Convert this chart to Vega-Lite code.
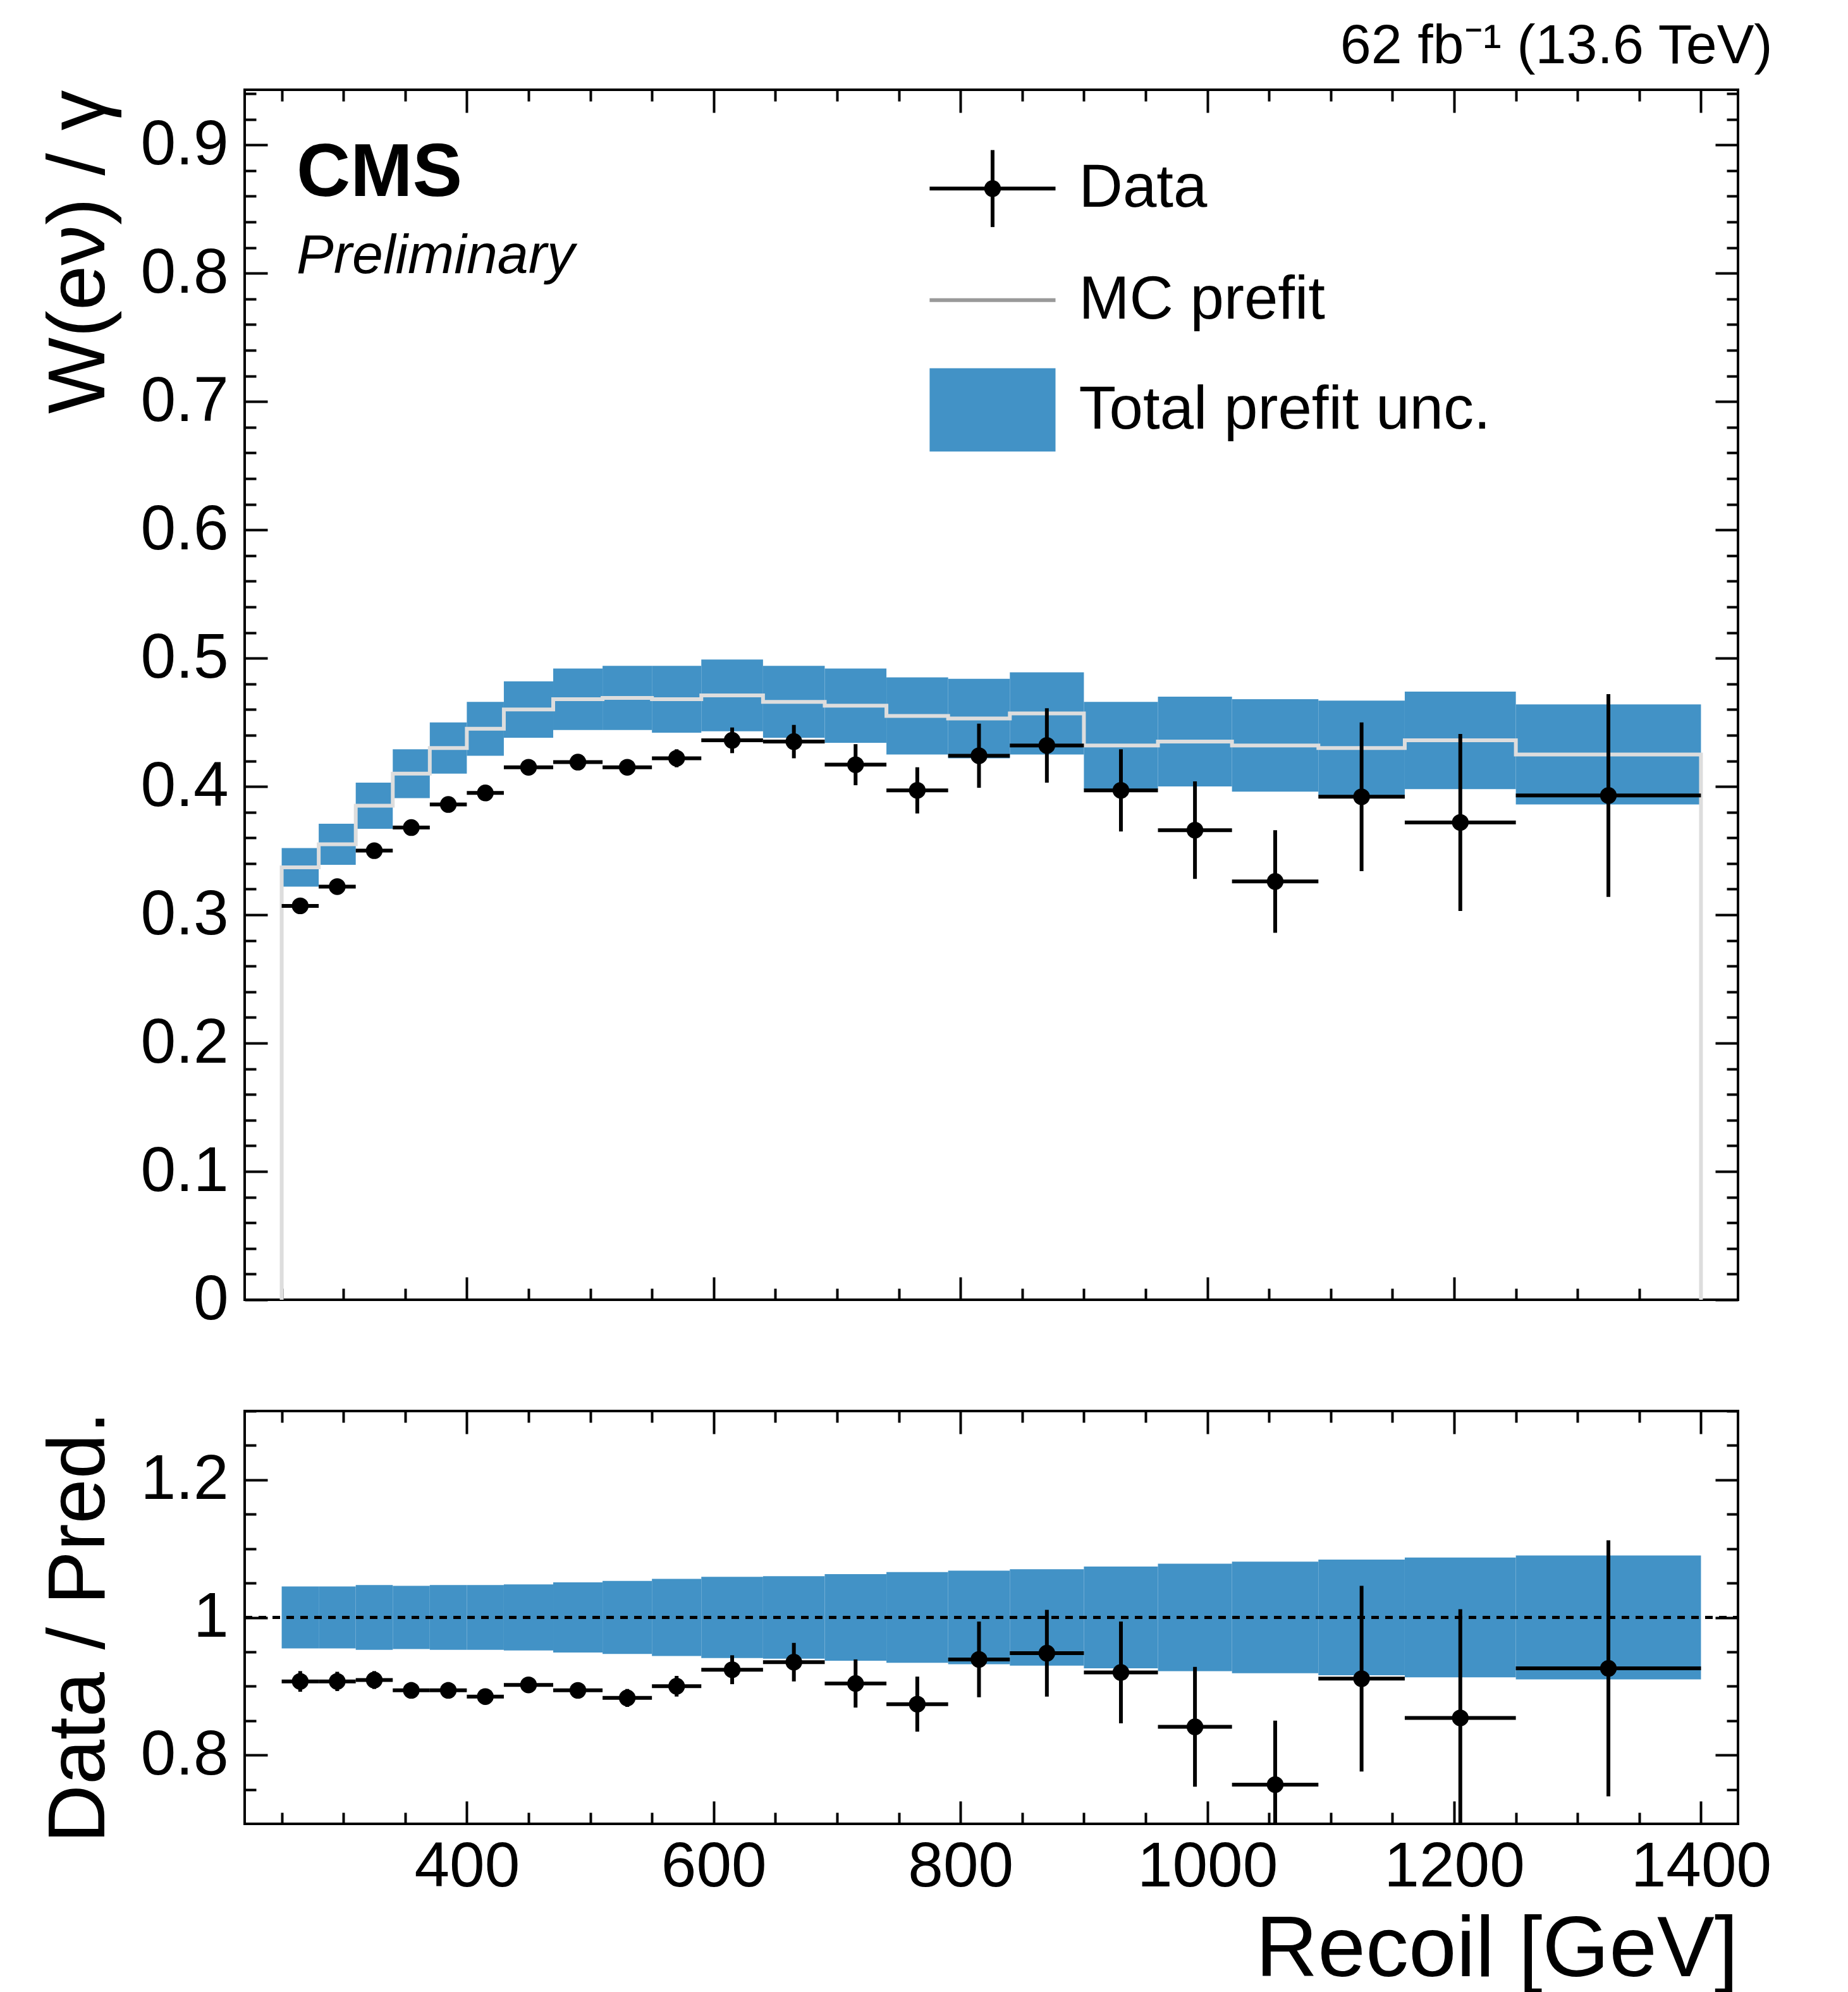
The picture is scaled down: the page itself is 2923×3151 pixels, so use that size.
{
  "$schema": "https://vega.github.io/schema/vega-lite/v6.json",
  "background": "white",
  "padding": {"left": 60, "top": 30, "right": 80, "bottom": 30},
  "config": {
    "font": "Liberation Sans",
    "view": {"stroke": "black", "strokeWidth": 4},
    "axis": {"domain": false, "grid": false, "tickColor": "black", "tickWidth": 4, "labelColor": "black",
      "labelFont": "Liberation Sans", "labelFontSize": 100, "titleFont": "Liberation Sans", "titleFontSize": 128,
      "titleFontWeight": "normal", "titleColor": "black", "labelPadding": 62, "labelLimit": 0, "titlePadding": 30}
  },
  "title": {"text": "62 fb⁻¹ (13.6 TeV)", "anchor": "end", "fontSize": 88, "fontWeight": "normal", "font": "Liberation Sans", "offset": 20},
  "datasets": {
    "bins": [
      {"lo":250,"hi":280,"c":265,"blo":0.322,"bhi":0.352,"d":0.307,"dlo":0.302,"dhi":0.312,"rblo":0.955,"rbhi":1.045,"r":0.907,"rlo":0.892,"rhi":0.922},
      {"lo":280,"hi":310,"c":295,"blo":0.339,"bhi":0.371,"d":0.322,"dlo":0.317,"dhi":0.327,"rblo":0.955,"rbhi":1.045,"r":0.907,"rlo":0.893,"rhi":0.921},
      {"lo":310,"hi":340,"c":325,"blo":0.367,"bhi":0.403,"d":0.350,"dlo":0.345,"dhi":0.355,"rblo":0.953,"rbhi":1.047,"r":0.909,"rlo":0.896,"rhi":0.922},
      {"lo":340,"hi":370,"c":355,"blo":0.391,"bhi":0.429,"d":0.368,"dlo":0.363,"dhi":0.373,"rblo":0.954,"rbhi":1.046,"r":0.894,"rlo":0.882,"rhi":0.906},
      {"lo":370,"hi":400,"c":385,"blo":0.410,"bhi":0.450,"d":0.386,"dlo":0.381,"dhi":0.391,"rblo":0.953,"rbhi":1.047,"r":0.894,"rlo":0.882,"rhi":0.906},
      {"lo":400,"hi":430,"c":415,"blo":0.424,"bhi":0.466,"d":0.395,"dlo":0.390,"dhi":0.400,"rblo":0.953,"rbhi":1.047,"r":0.885,"rlo":0.874,"rhi":0.896},
      {"lo":430,"hi":470,"c":450,"blo":0.438,"bhi":0.482,"d":0.415,"dlo":0.410,"dhi":0.420,"rblo":0.952,"rbhi":1.048,"r":0.902,"rlo":0.891,"rhi":0.913},
      {"lo":470,"hi":510,"c":490,"blo":0.444,"bhi":0.492,"d":0.419,"dlo":0.414,"dhi":0.424,"rblo":0.949,"rbhi":1.051,"r":0.894,"rlo":0.883,"rhi":0.905},
      {"lo":510,"hi":550,"c":530,"blo":0.444,"bhi":0.494,"d":0.415,"dlo":0.409,"dhi":0.421,"rblo":0.947,"rbhi":1.053,"r":0.883,"rlo":0.870,"rhi":0.896},
      {"lo":550,"hi":590,"c":570,"blo":0.442,"bhi":0.494,"d":0.422,"dlo":0.415,"dhi":0.429,"rblo":0.944,"rbhi":1.056,"r":0.900,"rlo":0.885,"rhi":0.915},
      {"lo":590,"hi":640,"c":615,"blo":0.443,"bhi":0.499,"d":0.436,"dlo":0.426,"dhi":0.446,"rblo":0.941,"rbhi":1.059,"r":0.924,"rlo":0.903,"rhi":0.945},
      {"lo":640,"hi":690,"c":665,"blo":0.438,"bhi":0.494,"d":0.435,"dlo":0.422,"dhi":0.448,"rblo":0.940,"rbhi":1.060,"r":0.935,"rlo":0.907,"rhi":0.963},
      {"lo":690,"hi":740,"c":715,"blo":0.434,"bhi":0.492,"d":0.417,"dlo":0.401,"dhi":0.433,"rblo":0.937,"rbhi":1.063,"r":0.904,"rlo":0.869,"rhi":0.939},
      {"lo":740,"hi":790,"c":765,"blo":0.425,"bhi":0.485,"d":0.397,"dlo":0.379,"dhi":0.415,"rblo":0.934,"rbhi":1.066,"r":0.874,"rlo":0.834,"rhi":0.914},
      {"lo":790,"hi":840,"c":815,"blo":0.422,"bhi":0.484,"d":0.424,"dlo":0.399,"dhi":0.449,"rblo":0.932,"rbhi":1.068,"r":0.939,"rlo":0.884,"rhi":0.994},
      {"lo":840,"hi":900,"c":870,"blo":0.425,"bhi":0.489,"d":0.432,"dlo":0.403,"dhi":0.461,"rblo":0.930,"rbhi":1.070,"r":0.948,"rlo":0.885,"rhi":1.011},
      {"lo":900,"hi":960,"c":930,"blo":0.398,"bhi":0.466,"d":0.397,"dlo":0.365,"dhi":0.429,"rblo":0.926,"rbhi":1.074,"r":0.920,"rlo":0.846,"rhi":0.994},
      {"lo":960,"hi":1020,"c":990,"blo":0.400,"bhi":0.470,"d":0.366,"dlo":0.328,"dhi":0.404,"rblo":0.922,"rbhi":1.078,"r":0.841,"rlo":0.754,"rhi":0.928},
      {"lo":1020,"hi":1090,"c":1055,"blo":0.396,"bhi":0.468,"d":0.326,"dlo":0.286,"dhi":0.366,"rblo":0.919,"rbhi":1.081,"r":0.757,"rlo":0.664,"rhi":0.850},
      {"lo":1090,"hi":1160,"c":1125,"blo":0.393,"bhi":0.467,"d":0.392,"dlo":0.334,"dhi":0.450,"rblo":0.916,"rbhi":1.084,"r":0.911,"rlo":0.776,"rhi":1.046},
      {"lo":1160,"hi":1250,"c":1205,"blo":0.398,"bhi":0.474,"d":0.372,"dlo":0.303,"dhi":0.441,"rblo":0.913,"rbhi":1.087,"r":0.854,"rlo":0.696,"rhi":1.012},
      {"lo":1250,"hi":1400,"c":1325,"blo":0.386,"bhi":0.464,"d":0.393,"dlo":0.314,"dhi":0.472,"rblo":0.910,"rbhi":1.090,"r":0.926,"rlo":0.740,"rhi":1.112}
    ],
    "mc": [
      {"e":250,"v":0},{"e":250,"v":0.337},{"e":280,"v":0.355},{"e":310,"v":0.385},{"e":340,"v":0.410},{"e":370,"v":0.430},
      {"e":400,"v":0.445},{"e":430,"v":0.460},{"e":470,"v":0.468},{"e":510,"v":0.469},{"e":550,"v":0.468},{"e":590,"v":0.471},
      {"e":640,"v":0.466},{"e":690,"v":0.463},{"e":740,"v":0.455},{"e":790,"v":0.453},{"e":840,"v":0.457},{"e":900,"v":0.432},
      {"e":960,"v":0.435},{"e":1020,"v":0.432},{"e":1090,"v":0.430},{"e":1160,"v":0.436},{"e":1250,"v":0.425},{"e":1400,"v":0.425},{"e":1400,"v":0}
    ],
    "cms": [{"t":"CMS","x":262,"y":0.86}],
    "prelim": [{"t":"Preliminary","x":262,"y":0.80}],
    "leg": [
      {"t":"Data","x":896,"y":0.866},
      {"t":"MC prefit","x":896,"y":0.779},
      {"t":"Total prefit unc.","x":896,"y":0.693}
    ],
    "legsym": [
      {"x":775,"x2":877,"y":0.866,"ylo":0.836,"yhi":0.896,"c":826,"my":0.779,"blo":0.661,"bhi":0.726}
    ]
  },
  "vconcat": [
    {
      "width": 2362,
      "height": 1914,
      "resolve": {"axis": {"x": "independent", "y": "independent"}},
      "layer": [
        {
          "data": {"name": "bins"},
          "mark": {"type": "rect", "color": "#4292c6"},
          "encoding": {
            "x": {"field": "lo", "type": "quantitative", "scale": {"domain": [220, 1430], "nice": false, "zero": false},
              "axis": {"orient": "bottom", "values": [400, 600, 800, 1000, 1200, 1400], "labels": false, "tickSize": -36, "title": null}},
            "x2": {"field": "hi"},
            "y": {"field": "blo", "type": "quantitative", "scale": {"domain": [0, 0.943], "nice": false},
              "axis": {"orient": "left", "values": [0, 0.1, 0.2, 0.3, 0.4, 0.5, 0.6, 0.7, 0.8, 0.9], "tickSize": -36,
                "title": "W(eν) / γ", "titleAnchor": "end", "labelExpr": "datum.value == 0 ? '0' : format(datum.value, '.1f')"}},
            "y2": {"field": "bhi"}
          }
        },
        {
          "data": {"name": "mc"},
          "mark": {"type": "line", "interpolate": "step-after", "color": "#dddddd", "strokeWidth": 6},
          "encoding": {
            "x": {"field": "e", "type": "quantitative",
              "axis": {"orient": "bottom", "values": [250,300,350,450,500,550,650,700,750,850,900,950,1050,1100,1150,1250,1300,1350], "labels": false, "tickSize": -18, "title": null}},
            "y": {"field": "v", "type": "quantitative",
              "axis": {"orient": "left", "values": [0.02,0.04,0.06,0.08,0.12,0.14,0.16,0.18,0.22,0.24,0.26,0.28,0.32,0.34,0.36,0.38,0.42,0.44,0.46,0.48,0.52,0.54,0.56,0.58,0.62,0.64,0.66,0.68,0.72,0.74,0.76,0.78,0.82,0.84,0.86,0.88,0.92,0.94], "labels": false, "tickSize": -18, "title": null}},
            "order": {"value": 0}
          }
        },
        {
          "data": {"name": "bins"},
          "mark": {"type": "rule", "color": "black", "strokeWidth": 6},
          "encoding": {
            "x": {"field": "lo", "type": "quantitative",
              "axis": {"orient": "top", "values": [400, 600, 800, 1000, 1200, 1400], "labels": false, "tickSize": -36, "title": null}},
            "x2": {"field": "hi"},
            "y": {"field": "d", "type": "quantitative",
              "axis": {"orient": "right", "values": [0, 0.1, 0.2, 0.3, 0.4, 0.5, 0.6, 0.7, 0.8, 0.9], "labels": false, "tickSize": -36, "title": null}}
          }
        },
        {
          "data": {"name": "bins"},
          "mark": {"type": "rule", "color": "black", "strokeWidth": 6},
          "encoding": {
            "x": {"field": "c", "type": "quantitative",
              "axis": {"orient": "top", "values": [250,300,350,450,500,550,650,700,750,850,900,950,1050,1100,1150,1250,1300,1350], "labels": false, "tickSize": -18, "title": null}},
            "y": {"field": "dlo", "type": "quantitative",
              "axis": {"orient": "right", "values": [0.02,0.04,0.06,0.08,0.12,0.14,0.16,0.18,0.22,0.24,0.26,0.28,0.32,0.34,0.36,0.38,0.42,0.44,0.46,0.48,0.52,0.54,0.56,0.58,0.62,0.64,0.66,0.68,0.72,0.74,0.76,0.78,0.82,0.84,0.86,0.88,0.92,0.94], "labels": false, "tickSize": -18, "title": null}},
            "y2": {"field": "dhi"}
          }
        },
        {
          "data": {"name": "bins"},
          "mark": {"type": "circle", "color": "black", "opacity": 1, "size": 700},
          "encoding": {
            "x": {"field": "c", "type": "quantitative", "axis": null},
            "y": {"field": "d", "type": "quantitative", "axis": null}
          }
        },
        {
          "data": {"name": "cms"},
          "mark": {"type": "text", "align": "left", "baseline": "alphabetic", "color": "black", "fontWeight": "bold", "fontSize": 118},
          "encoding": {
            "x": {"field": "x", "type": "quantitative", "axis": null},
            "y": {"field": "y", "type": "quantitative", "axis": null},
            "text": {"field": "t"}
          }
        },
        {
          "data": {"name": "prelim"},
          "mark": {"type": "text", "align": "left", "baseline": "alphabetic", "color": "black", "fontStyle": "italic", "fontSize": 88},
          "encoding": {
            "x": {"field": "x", "type": "quantitative", "axis": null},
            "y": {"field": "y", "type": "quantitative", "axis": null},
            "text": {"field": "t"}
          }
        },
        {
          "data": {"name": "leg"},
          "mark": {"type": "text", "align": "left", "baseline": "middle", "color": "black", "fontSize": 96},
          "encoding": {
            "x": {"field": "x", "type": "quantitative", "axis": null},
            "y": {"field": "y", "type": "quantitative", "axis": null},
            "text": {"field": "t"}
          }
        },
        {
          "data": {"name": "legsym"},
          "mark": {"type": "rect", "color": "#4292c6"},
          "encoding": {
            "x": {"field": "x", "type": "quantitative", "axis": null},
            "x2": {"field": "x2"},
            "y": {"field": "blo", "type": "quantitative", "axis": null},
            "y2": {"field": "bhi"}
          }
        },
        {
          "data": {"name": "legsym"},
          "mark": {"type": "rule", "color": "#999999", "strokeWidth": 6},
          "encoding": {
            "x": {"field": "x", "type": "quantitative", "axis": null},
            "x2": {"field": "x2"},
            "y": {"field": "my", "type": "quantitative", "axis": null}
          }
        },
        {
          "data": {"name": "legsym"},
          "mark": {"type": "rule", "color": "black", "strokeWidth": 6},
          "encoding": {
            "x": {"field": "x", "type": "quantitative", "axis": null},
            "x2": {"field": "x2"},
            "y": {"field": "y", "type": "quantitative", "axis": null}
          }
        },
        {
          "data": {"name": "legsym"},
          "mark": {"type": "rule", "color": "black", "strokeWidth": 6},
          "encoding": {
            "x": {"field": "c", "type": "quantitative", "axis": null},
            "y": {"field": "ylo", "type": "quantitative", "axis": null},
            "y2": {"field": "yhi"}
          }
        },
        {
          "data": {"name": "legsym"},
          "mark": {"type": "circle", "color": "black", "opacity": 1, "size": 700},
          "encoding": {
            "x": {"field": "c", "type": "quantitative", "axis": null},
            "y": {"field": "y", "type": "quantitative", "axis": null}
          }
        }
      ]
    },
    {
      "width": 2362,
      "height": 653,
      "resolve": {"axis": {"x": "independent", "y": "independent"}},
      "layer": [
        {
          "data": {"name": "bins"},
          "mark": {"type": "rect", "color": "#4292c6", "clip": true},
          "encoding": {
            "x": {"field": "lo", "type": "quantitative", "scale": {"domain": [220, 1430], "nice": false, "zero": false},
              "axis": {"orient": "bottom", "values": [400, 600, 800, 1000, 1200, 1400], "tickSize": -36, "title": "Recoil [GeV]", "titleAnchor": "end", "titleFontSize": 136, "format": "d", "labelPadding": 55, "titlePadding": 15}},
            "x2": {"field": "hi"},
            "y": {"field": "rblo", "type": "quantitative", "scale": {"domain": [0.7, 1.3], "nice": false, "zero": false},
              "axis": {"orient": "left", "values": [0.8, 1, 1.2], "tickSize": -36, "title": "Data / Pred.", "titleAnchor": "end", "labelExpr": "datum.value == 1 ? '1' : format(datum.value, '.1f')"}},
            "y2": {"field": "rbhi"}
          }
        },
        {
          "data": {"name": "bins"},
          "mark": {"type": "rule", "color": "black", "strokeWidth": 5, "strokeDash": [12, 10]},
          "encoding": {
            "x": {"datum": 220, "type": "quantitative",
              "axis": {"orient": "bottom", "values": [250,300,350,450,500,550,650,700,750,850,900,950,1050,1100,1150,1250,1300,1350], "labels": false, "tickSize": -18, "title": null}},
            "x2": {"datum": 1430},
            "y": {"datum": 1, "type": "quantitative",
              "axis": {"orient": "left", "values": [0.75, 0.85, 0.9, 0.95, 1.05, 1.1, 1.15, 1.25, 1.3], "labels": false, "tickSize": -18, "title": null}}
          }
        },
        {
          "data": {"name": "bins"},
          "mark": {"type": "rule", "color": "black", "strokeWidth": 6, "clip": true},
          "encoding": {
            "x": {"field": "lo", "type": "quantitative",
              "axis": {"orient": "top", "values": [400, 600, 800, 1000, 1200, 1400], "labels": false, "tickSize": -36, "title": null}},
            "x2": {"field": "hi"},
            "y": {"field": "r", "type": "quantitative",
              "axis": {"orient": "right", "values": [0.8, 1, 1.2], "labels": false, "tickSize": -36, "title": null}}
          }
        },
        {
          "data": {"name": "bins"},
          "mark": {"type": "rule", "color": "black", "strokeWidth": 6, "clip": true},
          "encoding": {
            "x": {"field": "c", "type": "quantitative",
              "axis": {"orient": "top", "values": [250,300,350,450,500,550,650,700,750,850,900,950,1050,1100,1150,1250,1300,1350], "labels": false, "tickSize": -18, "title": null}},
            "y": {"field": "rlo", "type": "quantitative",
              "axis": {"orient": "right", "values": [0.75, 0.85, 0.9, 0.95, 1.05, 1.1, 1.15, 1.25, 1.3], "labels": false, "tickSize": -18, "title": null}},
            "y2": {"field": "rhi"}
          }
        },
        {
          "data": {"name": "bins"},
          "mark": {"type": "circle", "color": "black", "opacity": 1, "size": 700, "clip": true},
          "encoding": {
            "x": {"field": "c", "type": "quantitative", "axis": null},
            "y": {"field": "r", "type": "quantitative", "axis": null}
          }
        }
      ]
    }
  ],
  "spacing": 120
}
